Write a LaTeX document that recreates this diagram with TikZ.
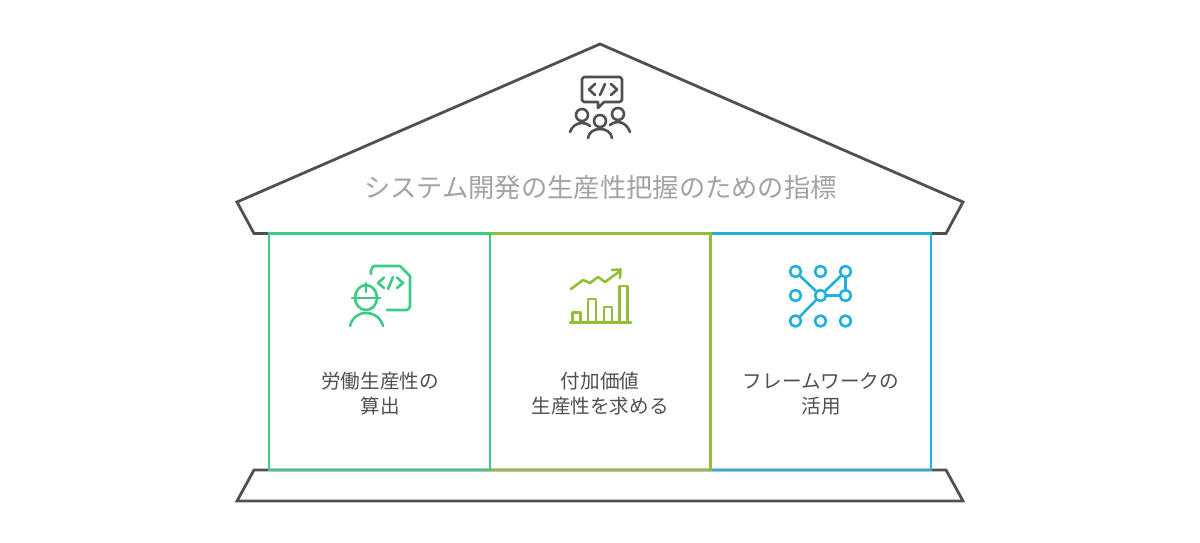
\documentclass[tikz,border=0pt]{standalone}
\usepackage{fontspec}
\newfontfamily\cjk{Noto Sans CJK JP}
\definecolor{cgreen}{HTML}{3CCB85}
\definecolor{colive}{HTML}{92BF35}
\definecolor{cblue}{HTML}{1FB0DC}
\definecolor{cdark}{HTML}{505050}
\definecolor{ctitle}{HTML}{A3A3A3}
\tikzset{
  house/.style={draw=cdark,line width=2.8pt,line join=miter,fill=white},
  panel/.style={line width=2.8pt,line join=miter},
  icon/.style={line width=2.6pt,line cap=round,line join=round},
  titletext/.style={font=\cjk\fontsize{26.3}{31}\selectfont,text=ctitle,inner sep=0pt},
  labeltext/.style={font=\cjk\fontsize{19.6}{25}\selectfont,text=cdark,align=center,inner sep=0pt},
}
\begin{document}
\begin{tikzpicture}[x=1pt,y=-1pt]
\useasboundingbox[fill=white] (0,0) rectangle (1200,542);
% roof and base
\draw[house] (600,44) -- (963,202) -- (946,233.5) -- (254,233.5) -- (237,202) -- cycle;
\draw[house] (254,470) -- (946,470) -- (963,501) -- (237,501) -- cycle;
% panels
\draw[panel,draw=cblue] (710.5,233.5) rectangle (931,470);
\draw[panel,draw=colive] (490,233.5) rectangle (710.5,470);
\draw[panel,draw=cgreen] (269,233.5) rectangle (490,470);
% title
\node[titletext] (title) at (600.5,187.2) {システム開発の生産性把握のための指標};
% top icon
\begin{scope}[icon,draw=cdark]
\draw (584,77) -- (620,77) to[out=0,in=-90] (622,79) -- (622,100) to[out=90,in=0] (620,102) -- (604,102) -- (598,108) -- (598,102) -- (584,102) to[out=180,in=90] (582,100) -- (582,79) to[out=-90,in=180] (584,77);
\draw (595,84) -- (589,89.5) -- (595,95);
\draw (605,84) -- (600,95);
\draw (611,84) -- (617,89.5) -- (611,95);
\draw (582,115) circle[radius=6];
\draw (618,114) circle[radius=6];
\draw (600,121) circle[radius=6];
\draw (570,132) .. controls (572,126) and (577,123) .. (582,123) .. controls (585,123) and (588,124) .. (590,126);
\draw (630,132) .. controls (628,126) and (623,122) .. (618,122) .. controls (615,122) and (612,123) .. (610,125);
\draw (588,138) .. controls (589,132) and (594,129) .. (600,129) .. controls (606,129) and (611,132) .. (612,138);
\end{scope}
% green icon
\begin{scope}[icon,draw=cgreen]
\draw (371,274) -- (371,270) to[out=-90,in=180] (374,266) -- (400,266) -- (410,276) -- (410,307) to[out=90,in=0] (407,310) -- (387,310);
\draw (384,277.5) -- (378,283) -- (384,288);
\draw (393,277) -- (388,289);
\draw (397,277.5) -- (403,283) -- (397,288);
\draw (355,298) arc[start angle=180,end angle=360,x radius=11,y radius=-12];
\draw (355,298) arc[start angle=180,end angle=360,x radius=11,y radius=13];
\draw (352,298) -- (380,298);
\draw (366,283) -- (366,292);
\draw (350,326) .. controls (352,318) and (358,313) .. (366,313) .. controls (374,313) and (381,318) .. (383,326);
\end{scope}
% olive icon
\begin{scope}[icon,draw=colive]
\draw (570,322.5) -- (631,322.5);
\draw (572.5,322) -- (572.5,312.5) -- (580.5,312.5) -- (580.5,322);
\draw (588,322) -- (588,299) -- (596,299) -- (596,322);
\draw (604,322) -- (604,307) -- (612,307) -- (612,322);
\draw (619.5,322) -- (619.5,286) -- (627.5,286) -- (627.5,322);
\draw (571,289) -- (583,280) -- (590,283) -- (598,277) -- (605,282) -- (620,271);
\draw (612,270) -- (620.5,269.5) -- (620,278);
\end{scope}
% blue icon
\begin{scope}[icon,draw=cblue]
\foreach \n/\x/\y in {a/795.5/271.5,b/820.5/271.5,c/845.5/271.5,d/795.5/295.5,e/820.5/295.5,f/845.5/295.5,g/795.5/321,h/820.5/321,i/845.5/321}{
  \node[circle,draw=cblue,line width=2.6pt,minimum size=11pt,inner sep=0pt] (\n) at (\x,\y) {};
}
\draw (a) -- (e);
\draw (g) -- (e);
\draw (c) -- (e);
\draw (e) -- (f);
\draw (c) -- (f);
\end{scope}
% labels
\node[labeltext] (l1) at (380,393.5) {労働生産性の\\算出};
\node[labeltext] (l2) at (600,393.5) {付加価値\\生産性を求める};
\node[labeltext] (l3) at (821,393.5) {フレームワークの\\活用};
\end{tikzpicture}
\end{document}
